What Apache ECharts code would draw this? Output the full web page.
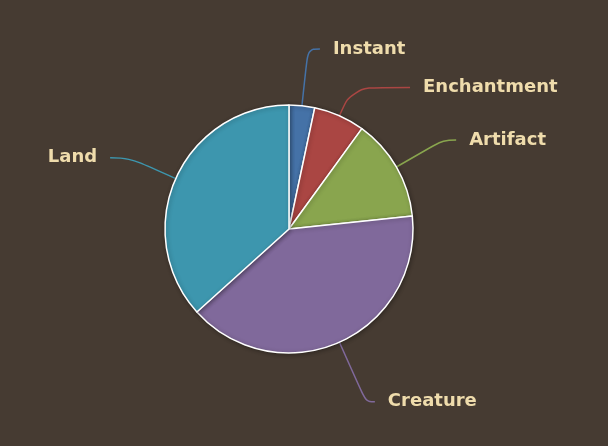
<!DOCTYPE html>
<html>
<head>
<meta charset="utf-8">
<script src="https://cdn.jsdelivr.net/npm/echarts@6/dist/echarts.min.js"></script>
<style>
  html, body { margin: 0; padding: 0; background: #463b32; }
  #root { width: 608px; height: 446px; }
</style>
</head>
<body>
<div id="root"></div>
<script>
// card types in the deck
const categories = ["Instant", "Enchantment", "Artifact", "Creature", "Land"];
const counts = [2, 4, 8, 24, 22];
const colors = ["#4572A7", "#AA4643", "#89A54E", "#80699B", "#3D96AE"];
// connector lengths per slice (first leg, second leg)
const lineLen = [57, 31, 54, 65, 51];
const lineLen2 = [12, 58, 13, 9, 19];

const chart = echarts.init(document.getElementById("root"));

const data = categories.map((name, i) => ({
  name: name,
  value: counts[i],
  itemStyle: { color: colors[i] },
  labelLine: { length: lineLen[i], length2: lineLen2[i], lineStyle: { color: colors[i] } }
}));

chart.setOption({
  backgroundColor: "#463b32",
  animation: false,
  series: [{
    type: "pie",
    center: [289, 229],
    radius: 124,
    startAngle: 90,
    clockwise: true,
    avoidLabelOverlap: false,
    data: data,
    itemStyle: {
      borderColor: "#ffffff",
      borderWidth: 1.5,
      shadowBlur: 4,
      shadowOffsetX: 1,
      shadowOffsetY: 1,
      shadowColor: "rgba(0,0,0,0.3)"
    },
    label: {
      color: "#efdcac",
      fontFamily: "DejaVu Sans",
      fontWeight: "bold",
      fontSize: 18,
      distanceToLabelLine: 13
    },
    labelLine: {
      show: true,
      smooth: 0.4,
      lineStyle: { width: 1.5 }
    },
    emphasis: { disabled: true }
  }]
});
</script>
</body>
</html>
